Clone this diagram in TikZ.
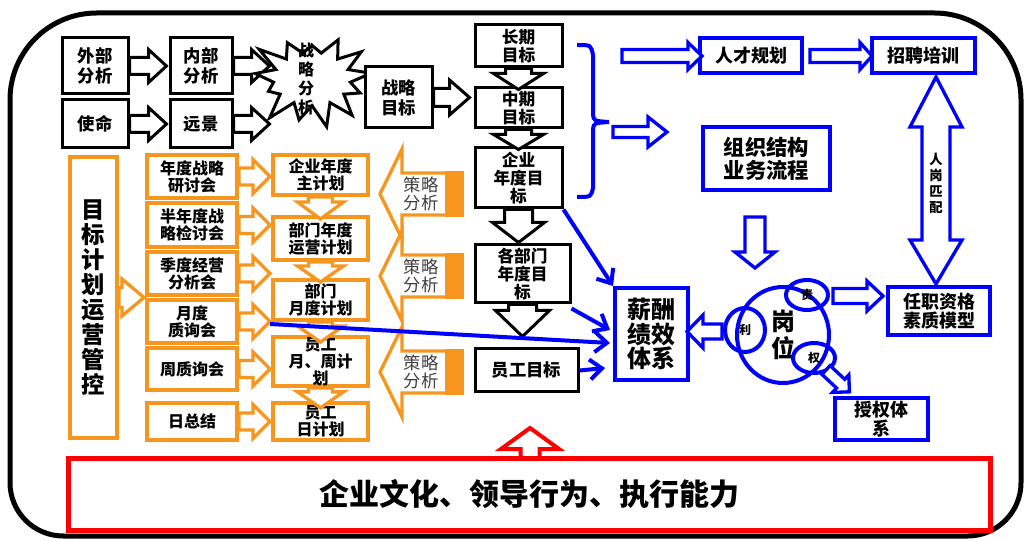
\documentclass[tikz,border=0pt]{standalone}
\usepackage{fontspec}
\setmainfont{Noto Sans CJK SC}
\usetikzlibrary{shapes.geometric,shapes.symbols,arrows.meta,calc}
\definecolor{org}{RGB}{247,150,30}
\definecolor{bl}{RGB}{0,0,255}
\definecolor{rd}{RGB}{255,0,0}
% box from corners: name, x1, y1, x2, y2, style, text
\newcommand\bx[7]{\node[#6, minimum width={(#4-#2)*0.75pt}, minimum height={(#5-#3)*0.75pt}] (#1) at ({(#2+#4)/2},{(#3+#5)/2}) {#7};}
% block arrow: style, start, angle, length, shaft half, head half, head length
\newcommand\barr[7]{\draw[#1, shift={#2}, rotate=#3] (0,-#5) -- ({#4-#7},-#5) -- ({#4-#7},-#6) -- (#4,0) -- ({#4-#7},#6) -- ({#4-#7},#5) -- (0,#5) -- cycle;}
\tikzset{
 every node/.style={inner sep=0pt, align=center},
 kbox/.style={draw=black, line width=2.25pt, fill=white, font=\bfseries\fontsize{13}{15}\selectfont},
 kboxs/.style={draw=black, line width=2.25pt, fill=white, font=\bfseries\fontsize{12.5}{13.8}\selectfont},
 obox/.style={draw=org, line width=3pt, fill=white, font=\bfseries\fontsize{12}{12.8}\selectfont},
 obig/.style={draw=org, line width=3pt, fill=white, font=\bfseries\fontsize{17.5}{18.75}\selectfont},
 bbox/.style={draw=bl, line width=3pt, fill=white, font=\bfseries\fontsize{13.5}{14.5}\selectfont},
 rbox/.style={draw=rd, line width=3.75pt, fill=white, font=\bfseries\fontsize{22.5}{26}\selectfont},
 karr/.style={draw=black, line width=2.25pt, fill=white},
 oarr/.style={draw=org, line width=2.5pt, fill=white},
 bluearr/.style={draw=bl, line width=2.5pt, fill=white},
 redarr/.style={draw=rd, line width=3pt, fill=white},
 bline/.style={draw=bl, line width=3pt, -{Straight Barb[length=9pt,width=15pt]}},
 bring/.style={draw=bl, line width=3pt, ellipse},
 clt/.style={font=\fontsize{13}{13.5}\selectfont, text=black!75},
}
\begin{document}
\begin{tikzpicture}[x=0.75pt,y=-0.75pt]
\useasboundingbox (0,0) rectangle (1028,541);
% outer frame
\draw[line width=3.75pt] (10,300) [rounded corners=65pt] -- (10,13) -- (1021,13) -- (1021,300) [rounded corners=40pt] -- (1021,536) -- (10,536) -- cycle;

% ---------- black part ----------
\bx{wb}{62}{38}{128}{94}{kbox}{外部\\分析}
\bx{nb}{170}{38}{232}{94}{kbox}{内部\\分析}
\bx{sm}{62}{100}{128}{148}{kbox}{使命}
\bx{yj}{170}{100}{232}{148}{kbox}{远景}
\barr{karr}{(wb.east)}{0}{37}{8.5}{16.5}{18}
\barr{karr}{(sm.east)}{0}{37}{8.5}{16.5}{18}
\barr{karr}{(nb.east)}{0}{36}{8.5}{16.5}{18}
\barr{karr}{(yj.east)}{0}{36}{8.5}{16.5}{18}
\node[starburst, draw=black, line width=2.25pt, fill=white, starburst points=13, starburst point height=20pt, minimum width=98pt, minimum height=80pt, random starburst=23] (zf) at (312,79) {};
\node[font=\bfseries\fontsize{12}{14.2}\selectfont] (zft) at (306,79) {战\\略\\分\\析};
\bx{zm}{365}{67}{432}{128}{kbox}{战略\\目标}
\barr{karr}{(zm.east)}{0}{36}{9}{17.5}{20}
\bx{cq}{475}{25}{562}{67}{kboxs}{长期\\目标}
\bx{zq}{475}{88}{562}{128}{kboxs}{中期\\目标}
\bx{qy}{475}{148}{562}{208}{kboxs}{企业\\年度目\\标}
\bx{gb}{475}{245}{570}{303}{kboxs}{各部门\\年度目\\标}
\bx{yg}{475}{349}{578}{392}{kbox}{员工目标}
\barr{karr}{(cq.south)}{-90}{21}{13}{25}{16}
\barr{karr}{(zq.south)}{-90}{20}{13}{25}{15}
\barr{karr}{(qy.south)}{-90}{33}{14}{26}{20}
\barr{karr}{(gb.south)}{-90}{32}{14}{27}{26}

% ---------- orange part ----------
\bx{mb}{70}{157}{117}{438}{obig}{目\\标\\计\\划\\运\\营\\管\\控}
\barr{oarr}{(mb.east)}{0}{25}{10}{18.5}{22}
\bx{r1}{147}{155}{237}{198}{obox}{年度战略\\研讨会}
\bx{r2}{147}{203}{237}{247}{obox}{半年度战\\略检讨会}
\bx{r3}{147}{252}{237}{295}{obox}{季度经营\\分析会}
\bx{r4}{147}{300}{237}{343}{obox}{月度\\质询会}
\bx{r5}{147}{348}{237}{390}{obox}{周质询会}
\bx{r6}{147}{403}{237}{440}{obox}{日总结}
\bx{m1}{273}{155}{368}{195}{obox}{企业年度\\主计划}
\bx{m2}{273}{217}{368}{260}{obox}{部门年度\\运营计划}
\bx{m3}{273}{280}{368}{320}{obox}{部门\\月度计划}
\bx{m4}{273}{340}{368}{383}{obox}{员工\\月、周计\\划}
\bx{m5}{273}{403}{368}{440}{obox}{员工\\日计划}
\foreach \r in {r1,r2,r3,r4,r5,r6}{\barr{oarr}{(\r.east)}{0}{31}{8.5}{17}{17}}
\barr{oarr}{(m1.south)}{-90}{22}{12}{23}{17}
\barr{oarr}{(m2.south)}{-90}{20}{12}{23}{16}
\barr{oarr}{(m3.south)}{-90}{20}{12}{23}{16}
\barr{oarr}{(m4.south)}{-90}{20}{12}{23}{16}
\foreach \yc/\nm in {194/c1,276/c2,372/c3}{
  \barr{oarr}{(462,\yc)}{180}{82}{21}{45}{22}
  \fill[org] (447,\yc-21) rectangle (462,\yc+21);
  \draw[org, line width=2.5pt] (447,\yc-21) rectangle (462,\yc+21);
  \node[clt] (\nm) at (421,\yc) {策略\\分析};
}

% ---------- blue part ----------
\draw[draw=bl, line width=3pt] (577,45) .. controls (591,45) .. (593,55) -- (593,115) .. controls (594,121) .. (609,122);
\draw[draw=bl, line width=3pt] (609,122) .. controls (594,123) .. (593,129) -- (593,188) .. controls (591,197) .. (577,197);
\bx{rc}{700}{38}{802}{73}{bbox}{人才规划}
\bx{zp}{872}{38}{975}{73}{bbox}{招聘培训}
\barr{bluearr}{(622,56)}{0}{80}{6.5}{13.5}{14}
\barr{bluearr}{(810,56)}{0}{62}{6.5}{13.5}{12}
\barr{bluearr}{(613,132)}{0}{54}{5.5}{15}{19}
\bx{zz}{703}{127}{830}{190}{bbox, font=\bfseries\fontsize{16}{17}\selectfont}{组织结构\\业务流程}
\bx{rz}{888}{287}{990}{335}{bbox}{任职资格\\素质模型}
\bx{sq}{835}{398}{928}{440}{bbox}{授权体\\系}
\bx{xc}{615}{288}{688}{380}{bbox, font=\bfseries\fontsize{18}{18.5}\selectfont}{薪酬\\绩效\\体系}
\draw[bluearr] (936,77) -- (962,127) -- (950,127) -- (950,240) -- (962,240) -- (936,284) -- (910,240) -- (922,240) -- (922,127) -- (910,127) -- cycle;
\node[font=\bfseries\fontsize{10}{12}\selectfont] (rg) at (936,183) {人\\岗\\匹\\配};
\barr{bluearr}{(755,217)}{-90}{51}{10}{20}{16}
\node[bring, minimum width=92*0.75pt, minimum height=96*0.75pt, font=\bfseries\fontsize{18}{20.5}\selectfont] (gw) at (783,335) {岗\\位};
\node[bring, minimum width=42*0.75pt, minimum height=30*0.75pt, font=\bfseries\fontsize{9}{10}\selectfont] (ze) at (807,295) {责};
\node[bring, minimum width=40*0.75pt, minimum height=44*0.75pt, font=\bfseries\fontsize{9}{10}\selectfont] (li) at (745,330) {利};
\node[bring, minimum width=42*0.75pt, minimum height=30*0.75pt, font=\bfseries\fontsize{9}{10}\selectfont] (qu) at (814,358) {权};
\barr{bluearr}{(833,296)}{0}{50}{7.5}{15}{16}
\barr{bluearr}{(722,331.5)}{180}{35}{7.5}{16.5}{16}
\barr{bluearr}{(826,370)}{-43}{32}{6}{12}{12}
\coordinate (ys) at ($(m3.south west)+(-1,2)$);
\draw[bline] (qy.south east) -- (xc.north west);
\draw[bline] ($(gb.south east)+(0,4)$) -- ($(xc.west)+(-3,-4)$);
\draw[bline] (ys) -- ($(xc.west)+(-3,9)$);
\draw[bline] (yg.east) -- ($(xc.west)+(-8,34)$);

% ---------- red part ----------
\bx{rb}{68}{458}{990}{530}{rbox}{企业文化、领导行为、执行能力}
\barr{redarr}{(530,458)}{90}{30}{9.5}{29}{21}
\end{tikzpicture}
\end{document}
